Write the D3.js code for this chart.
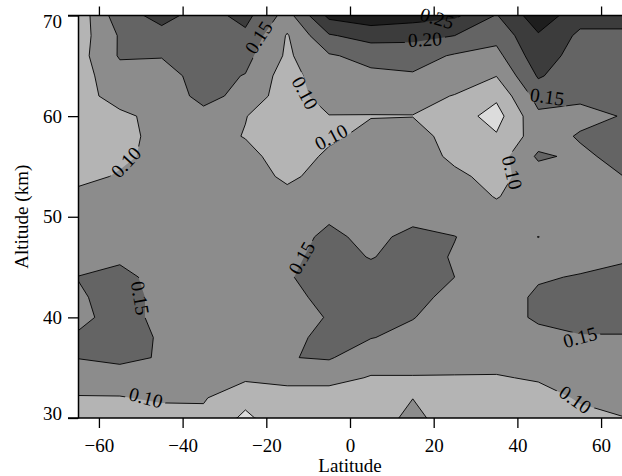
<!DOCTYPE html>
<html>
<head>
<meta charset="utf-8">
<script src="https://cdn.jsdelivr.net/npm/d3@7"></script>
<style>
  body { margin: 0; background: #fff; }
  svg { display: block; }
  text { font-family: "Liberation Serif", "Times New Roman", serif; fill: #000; }
</style>
</head>
<body>
<svg id="chart" width="622" height="476"></svg>
<script>
// Grid of the field: latitude columns and altitude rows (rows listed from the top, 70 km down to 30 km)
const latitudes = [-65, -55, -45, -35, -25, -15, -5, 5, 15, 25, 35, 45, 55, 65];
const altitudes = [70, 68, 66, 64, 62, 60, 58, 56, 54, 52, 50, 48, 46, 44, 42, 40, 38, 36, 34, 32, 30];

const alt70 = [0.068, 0.180, 0.215, 0.180, 0.215, 0.130, 0.263, 0.280, 0.270, 0.260, 0.197, 0.280, 0.220, 0.210];
const alt68 = [0.075, 0.155, 0.185, 0.180, 0.190, 0.096, 0.195, 0.220, 0.215, 0.200, 0.165, 0.245, 0.190, 0.195];
const alt66 = [0.080, 0.155, 0.152, 0.170, 0.165, 0.092, 0.145, 0.165, 0.170, 0.145, 0.135, 0.230, 0.175, 0.175];
const alt64 = [0.080, 0.130, 0.135, 0.165, 0.148, 0.075, 0.140, 0.140, 0.145, 0.125, 0.101, 0.205, 0.170, 0.180];
const alt62 = [0.080, 0.120, 0.130, 0.160, 0.140, 0.067, 0.130, 0.125, 0.115, 0.098, 0.060, 0.170, 0.160, 0.175];
const alt60 = [0.080, 0.090, 0.115, 0.140, 0.102, 0.060, 0.098, 0.098, 0.099, 0.075, 0.030, 0.140, 0.135, 0.152];
const alt58 = [0.080, 0.085, 0.115, 0.125, 0.097, 0.060, 0.090, 0.115, 0.120, 0.080, 0.055, 0.125, 0.155, 0.165];
const alt56 = [0.080, 0.090, 0.115, 0.125, 0.120, 0.070, 0.110, 0.120, 0.125, 0.090, 0.075, 0.158, 0.140, 0.165];
const alt54 = [0.085, 0.105, 0.120, 0.125, 0.125, 0.090, 0.120, 0.125, 0.125, 0.110, 0.085, 0.125, 0.135, 0.149];
const alt52 = [0.115, 0.120, 0.125, 0.125, 0.125, 0.115, 0.125, 0.125, 0.125, 0.120, 0.098, 0.120, 0.130, 0.140];
const alt50 = [0.120, 0.125, 0.125, 0.125, 0.125, 0.125, 0.145, 0.130, 0.140, 0.130, 0.115, 0.125, 0.130, 0.135];
const alt48 = [0.125, 0.130, 0.125, 0.125, 0.125, 0.135, 0.158, 0.140, 0.160, 0.151, 0.130, 0.1505, 0.130, 0.130];
const alt46 = [0.130, 0.145, 0.130, 0.125, 0.125, 0.140, 0.165, 0.148, 0.165, 0.147, 0.130, 0.135, 0.140, 0.145];
const alt44 = [0.151, 0.158, 0.140, 0.125, 0.125, 0.147, 0.165, 0.165, 0.165, 0.150, 0.130, 0.147, 0.152, 0.160];
const alt42 = [0.145, 0.165, 0.140, 0.125, 0.125, 0.140, 0.160, 0.165, 0.165, 0.135, 0.135, 0.155, 0.170, 0.170];
const alt40 = [0.140, 0.165, 0.140, 0.125, 0.125, 0.130, 0.153, 0.165, 0.152, 0.125, 0.135, 0.155, 0.165, 0.165];
const alt38 = [0.155, 0.170, 0.145, 0.125, 0.125, 0.140, 0.160, 0.152, 0.135, 0.125, 0.130, 0.140, 0.147, 0.147];
const alt36 = [0.152, 0.165, 0.145, 0.125, 0.120, 0.148, 0.155, 0.115, 0.115, 0.112, 0.115, 0.125, 0.130, 0.135];
const alt34 = [0.115, 0.120, 0.120, 0.115, 0.108, 0.110, 0.110, 0.098, 0.098, 0.098, 0.097, 0.104, 0.115, 0.120];
const alt32 = [0.098, 0.098, 0.105, 0.104, 0.065, 0.085, 0.085, 0.080, 0.0995, 0.085, 0.085, 0.085, 0.104, 0.110];
const alt30 = [0.085, 0.085, 0.085, 0.090, 0.040, 0.085, 0.080, 0.080, 0.110, 0.080, 0.075, 0.070, 0.090, 0.099];

const rowsTopDown = [alt70, alt68, alt66, alt64, alt62, alt60, alt58, alt56, alt54, alt52, alt50,
                     alt48, alt46, alt44, alt42, alt40, alt38, alt36, alt34, alt32, alt30];

const levels = [0.05, 0.10, 0.15, 0.20, 0.25];
const levelFills = ["#dcdcdc", "#b4b4b4", "#8c8c8c", "#646464", "#3c3c3c", "#1e1e1e"];

const xTicks = [-60, -40, -20, 0, 20, 40, 60];
const yTicks = [30, 40, 50, 60, 70];

// Contour annotations placed along the isolines
const contourLabels = [
  { text: "0.15", lat: -21.8, alt: 67.8, angle: -57 },
  { text: "0.10", lat: -10.8, alt: 62.3, angle: 62 },
  { text: "0.10", lat: -4.5,  alt: 57.9, angle: -28 },
  { text: "0.10", lat: -53.5, alt: 55.4, angle: -47 },
  { text: "0.25", lat: 20.8,  alt: 69.7, angle: 16 },
  { text: "0.20", lat: 17.9,  alt: 67.6, angle: -3 },
  { text: "0.15", lat: 47.1,  alt: 61.9, angle: 8 },
  { text: "0.10", lat: 38.7,  alt: 54.4, angle: 76 },
  { text: "0.15", lat: -11.5, alt: 45.9, angle: -60 },
  { text: "0.15", lat: -50.2, alt: 41.9, angle: 80 },
  { text: "0.10", lat: -48.8, alt: 32.0, angle: 15 },
  { text: "0.15", lat: 55.0,  alt: 38.0, angle: -15 },
  { text: "0.10", lat: 53.8,  alt: 31.8, angle: 35 }
];

const svg = d3.select("#chart");
const plotLeft = 78, plotRight = 622, plotTop = 15.5, plotBottom = 418;

const x = d3.scaleLinear().domain([-65, 65]).range([plotLeft, plotRight]);
const y = d3.scaleLinear().domain([30, 70]).range([plotBottom, plotTop]);

// Flatten the grid with row 0 = lowest altitude
const nx = latitudes.length, ny = altitudes.length;
const values = [];
for (let j = 0; j < ny; j++) {
  const row = rowsTopDown[ny - 1 - j];
  for (let i = 0; i < nx; i++) values.push(row[i]);
}
const latStep = latitudes[1] - latitudes[0];
const altStep = altitudes[0] - altitudes[1];
const alt0 = altitudes[ny - 1];

// Grid coordinates (value i sits at i + 0.5) -> pixels
const gx = c => x(latitudes[0] + (c - 0.5) * latStep);
const gy = c => y(alt0 + (c - 0.5) * altStep);
const path = d3.geoPath(d3.geoTransform({
  point(px, py) { this.stream.point(gx(px), gy(py)); }
}));

const contours = d3.contours().size([nx, ny]).thresholds(levels)(values);

const defs = svg.append("defs");
defs.append("clipPath").attr("id", "plotClip")
  .append("rect").attr("x", plotLeft).attr("y", plotTop)
  .attr("width", plotRight - plotLeft).attr("height", plotBottom - plotTop);

// Gaps in the isolines under the labels
const labelFont = 19.5;
const mask = defs.append("mask").attr("id", "labelGaps").attr("maskUnits", "userSpaceOnUse")
  .attr("x", 0).attr("y", 0).attr("width", 622).attr("height", 476);
mask.append("rect").attr("x", 0).attr("y", 0).attr("width", 622).attr("height", 476).attr("fill", "#fff");
mask.selectAll("rect.gap").data(contourLabels).join("rect")
  .attr("class", "gap")
  .attr("x", d => -d.text.length * labelFont * 0.44 / 2 - 3)
  .attr("y", -7)
  .attr("width", d => d.text.length * labelFont * 0.44 + 6)
  .attr("height", 14)
  .attr("fill", "#000")
  .attr("transform", d => `translate(${x(d.lat)},${y(d.alt)}) rotate(${d.angle})`);

const plot = svg.append("g").attr("clip-path", "url(#plotClip)");
plot.append("rect").attr("x", plotLeft).attr("y", plotTop)
  .attr("width", plotRight - plotLeft).attr("height", plotBottom - plotTop)
  .attr("fill", levelFills[0]);

plot.append("g").selectAll("path").data(contours).join("path")
  .attr("d", path)
  .attr("fill", (d, i) => levelFills[i + 1])
  .attr("stroke", "none");

plot.append("g").attr("mask", "url(#labelGaps)")
  .selectAll("path").data(contours).join("path")
  .attr("d", path)
  .attr("fill", "none")
  .attr("stroke", "#000")
  .attr("stroke-width", 0.9)
  .attr("stroke-linejoin", "round");

svg.append("g").selectAll("text").data(contourLabels).join("text")
  .attr("transform", d => `translate(${x(d.lat)},${y(d.alt)}) rotate(${d.angle})`)
  .attr("text-anchor", "middle")
  .attr("dy", "0.33em")
  .attr("font-size", labelFont)
  .text(d => d.text);

// Axes
const tickFont = 19;
const xAxis = svg.append("g").attr("transform", `translate(0,${plotBottom})`)
  .call(d3.axisBottom(x).tickValues(xTicks).tickSize(10).tickSizeOuter(0).tickPadding(10.5)
    .tickFormat(d3.format("d")));
const xTop = svg.append("g").attr("transform", `translate(0,${plotTop})`)
  .call(d3.axisTop(x).tickValues(xTicks).tickSize(9).tickSizeOuter(0).tickFormat(""));
const yAxis = svg.append("g").attr("transform", `translate(${plotLeft},0)`)
  .call(d3.axisLeft(y).tickValues(yTicks).tickSize(10).tickSizeOuter(0).tickPadding(6)
    .tickFormat(d3.format("d")));

[xAxis, xTop, yAxis].forEach(g => {
  g.select(".domain").attr("stroke", "#000").attr("stroke-width", 1.5);
  g.selectAll(".tick line").attr("stroke", "#000").attr("stroke-width", 1.3);
  g.selectAll(".tick text").attr("font-size", tickFont)
    .attr("font-family", "'Liberation Serif', 'Times New Roman', serif").attr("fill", "#000");
});
xAxis.select(".domain").attr("d", `M${plotLeft - 10},0H${plotRight}`);
xTop.select(".domain").attr("d", `M${plotLeft - 10},0H${plotRight}`);

// End labels on the altitude axis sit inside the frame
yAxis.selectAll(".tick text").attr("dy", d => d === 70 ? "0.62em" : d === 30 ? "0.08em" : "0.32em");

svg.append("text")
  .attr("x", 350).attr("y", 472)
  .attr("text-anchor", "middle")
  .attr("font-size", 19)
  .text("Latitude");

svg.append("text")
  .attr("transform", `translate(28,${(plotTop + plotBottom) / 2}) rotate(-90)`)
  .attr("text-anchor", "middle")
  .attr("font-size", 19)
  .text("Altitude (km)");
</script>
</body>
</html>
